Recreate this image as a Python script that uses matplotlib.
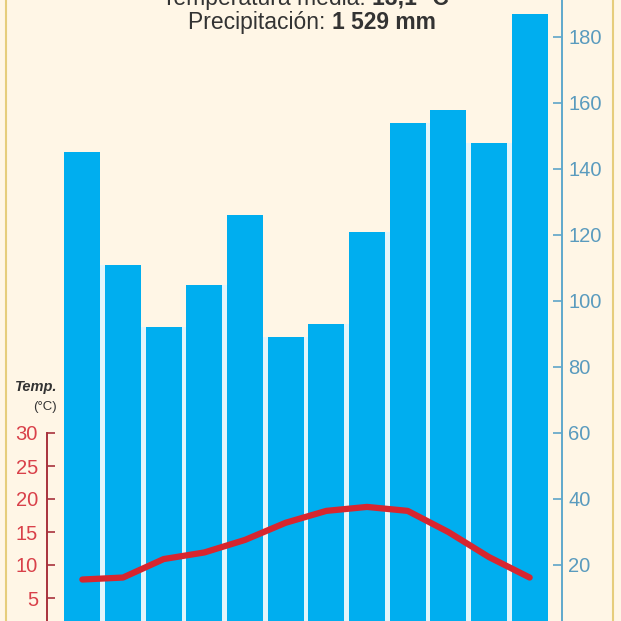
import matplotlib.pyplot as plt
import numpy as np
from matplotlib.lines import Line2D

plt.rcParams['font.family'] = ['Liberation Sans', 'DejaVu Sans']

# climograph data (months Jan..Dec)
months = np.arange(12)
precip = [145, 111, 92, 105, 126, 89, 93, 121, 154, 158, 148, 187]
temp = [7.8, 8.1, 10.9, 11.9, 13.8, 16.4, 18.2, 18.8, 18.2, 15.0, 11.2, 8.1]
precip_ticks = [20, 40, 60, 80, 100, 120, 140, 160, 180]
temp_ticks = [5, 10, 15, 20, 25, 30]

W = 621
fig = plt.figure(figsize=(6.21, 6.21), dpi=100)
fig.patch.set_facecolor('#FFF6E6')

# page borders
fig.add_artist(Line2D([6 / W, 6 / W], [0, 1], color='#E6CD7C', lw=1.5))
fig.add_artist(Line2D([613 / W, 613 / W], [0, 1], color='#E6CD7C', lw=1.5))

ax = fig.add_axes([47 / W, -10 / W, (562 - 47) / W, 631 / W])
ax.set_facecolor('none')
# pale strips between neighbouring bars
gaps = np.minimum(precip[:-1], precip[1:])
ax.bar(months[:-1] + 0.5, gaps, width=0.13, color='#E2F5FB', zorder=1)
ax.bar(months, precip, width=0.88, color='#00AEEF', zorder=2)
ax.set_xlim(-0.869, 11.795)
ax.set_ylim(0, 631 / 3.3)
ax.set_xticks([])

ax2 = ax.twinx()
ax2.plot(months, temp, color='#D7262F', lw=4.5, solid_capstyle='round', solid_joinstyle='round')
ax2.set_ylim(0, 631 / 3.3 / 2)

# precipitation axis on the right
ax.yaxis.tick_right()
ax.set_yticks(precip_ticks)
ax.tick_params(axis='y', direction='in', length=6.5, width=1.2, colors='#5FA5C8',
               labelcolor='#5A9BBE', labelsize=14.5, pad=4.5)
for s in ['left', 'top', 'bottom']:
    ax.spines[s].set_visible(False)
ax.spines['right'].set_visible(True)
ax.spines['right'].set_color('#5FA8CC')
ax.spines['right'].set_linewidth(1.4)

# temperature axis on the left
ax2.yaxis.tick_left()
ax2.set_yticks(temp_ticks)
ax2.tick_params(axis='y', direction='in', length=6, width=1.2, colors='#A8323C',
                labelcolor='#D9414A', labelsize=14.5, pad=6.5)
for s in ['right', 'top', 'bottom']:
    ax2.spines[s].set_visible(False)
ax2.spines['left'].set_visible(True)
ax2.spines['left'].set_color('#A8323C')
ax2.spines['left'].set_linewidth(1.4)
ax2.spines['left'].set_bounds(0, 30)

fig.text(57 / W, 1 - 387 / W, 'Temp.', ha='right', va='center', fontsize=10.5,
         fontweight='bold', fontstyle='italic', color='#333333')
fig.text(57 / W, 1 - 407 / W, '(°C)', ha='right', va='center', fontsize=9.5, color='#333333')

# header (first line partly cut off at the top)
fig.text(372 / W, 1 - 5 / W, 'Temperatura media: ', ha='right', va='baseline', fontsize=16.5, color='#333333')
fig.text(372 / W, 1 - 5 / W, '13,1 °C', ha='left', va='baseline', fontsize=16.5,
         fontweight='bold', color='#333333')
fig.text(332 / W, 1 - 29 / W, 'Precipitación: ', ha='right', va='baseline', fontsize=16.5, color='#333333')
fig.text(332 / W, 1 - 29 / W, '1 529 mm', ha='left', va='baseline', fontsize=16.5,
         fontweight='bold', color='#333333')

fig.savefig('out.png', dpi=100, facecolor=fig.get_facecolor())
